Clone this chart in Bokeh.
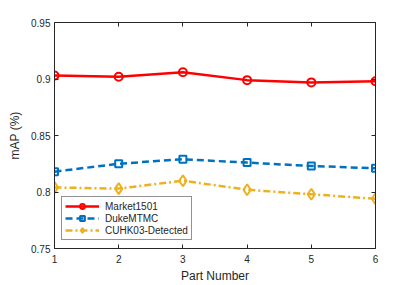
from bokeh.plotting import figure
from bokeh.models import Range1d, FixedTicker, LinearAxis, Legend, LegendItem, CustomJSTickFormatter
from bokeh.embed import file_html
from bokeh.resources import INLINE

# ---- data ----
parts = [1, 2, 3, 4, 5, 6]
market1501 = [0.903, 0.902, 0.906, 0.899, 0.897, 0.898]
dukemtmc = [0.818, 0.825, 0.829, 0.826, 0.823, 0.821]
cuhk03_detected = [0.804, 0.803, 0.810, 0.802, 0.798, 0.794]
series_names = ["Market1501", "DukeMTMC", "CUHK03-Detected"]
x_ticks = [1, 2, 3, 4, 5, 6]
y_ticks = [0.75, 0.8, 0.85, 0.9, 0.95]
y_tick_labels = ["0.75", "0.8", "0.85", "0.9", "0.95"]

FONT = "Arial"
AX = "#262626"

p = figure(width=415, height=285, output_backend="svg", toolbar_location=None,
           x_range=Range1d(1, 6), y_range=Range1d(0.75, 0.95),
           min_border_left=54, min_border_right=40, min_border_top=22, min_border_bottom=35)
p.grid.visible = False
p.outline_line_color = None
p.background_fill_color = "white"
p.border_fill_color = "white"

def style_axis(ax):
    ax.axis_line_color = AX
    ax.axis_line_width = 1
    ax.major_tick_line_color = AX
    ax.major_tick_in = 4
    ax.major_tick_out = 0
    ax.minor_tick_line_color = None
    ax.major_label_text_font = FONT
    ax.major_label_text_font_size = "10px"
    ax.major_label_text_color = AX
    ax.axis_label_text_font = FONT
    ax.axis_label_text_font_size = "12px"
    ax.axis_label_text_font_style = "normal"
    ax.axis_label_text_color = AX

xa = p.xaxis[0]
ya = p.yaxis[0]
xa.ticker = FixedTicker(ticks=x_ticks)
ya.ticker = FixedTicker(ticks=y_ticks)
ya.major_label_overrides = {v: s for v, s in zip(y_ticks, y_tick_labels)}
xa.axis_label = "Part Number"
ya.axis_label = "mAP (%)"
style_axis(xa)
style_axis(ya)
xa.major_label_standoff = 6
xa.axis_label_standoff = 3
ya.major_label_standoff = 4
ya.axis_label_standoff = 6

blank = CustomJSTickFormatter(code="return ''")
top = LinearAxis(ticker=FixedTicker(ticks=x_ticks), formatter=blank)
right = LinearAxis(ticker=FixedTicker(ticks=y_ticks), formatter=blank)
for a in (top, right):
    style_axis(a)
    a.major_label_standoff = 0
p.add_layout(top, "above")
p.add_layout(right, "right")

# Market1501
l1 = p.line(parts, market1501, line_color="#FF0000", line_width=2.5)
m1 = p.scatter(parts, market1501, marker="circle", size=8, line_color="#FF0000",
               line_width=2, fill_color=None)
# DukeMTMC
l2 = p.line(parts, dukemtmc, line_color="#0072BD", line_width=2.5, line_dash="7 4")
m2 = p.scatter(parts, dukemtmc, marker="square", size=7, line_color="#0072BD",
               line_width=2, fill_color=None)
# CUHK03-Detected
l3 = p.line(parts, cuhk03_detected, line_color="#EDB120", line_width=2.5, line_dash="7 3 2 3")
m3 = p.scatter(parts, cuhk03_detected, marker="diamond", size=11, line_color="#EDB120",
               line_width=2, fill_color=None)

legend = Legend(items=[
    LegendItem(label=series_names[0], renderers=[l1, m1]),
    LegendItem(label=series_names[1], renderers=[l2, m2]),
    LegendItem(label=series_names[2], renderers=[l3, m3]),
], location=(7, 8))
legend.label_text_font = FONT
legend.label_text_font_size = "10px"
legend.label_text_color = AX
legend.glyph_width = 34
legend.glyph_height = 12
legend.label_height = 12
legend.label_standoff = 6
legend.spacing = 0
legend.padding = 3
legend.margin = 0
legend.border_line_color = AX
legend.border_line_width = 1
legend.background_fill_color = "white"
legend.background_fill_alpha = 1
p.add_layout(legend, "center")

open("out.html", "w").write(file_html(p, INLINE))
